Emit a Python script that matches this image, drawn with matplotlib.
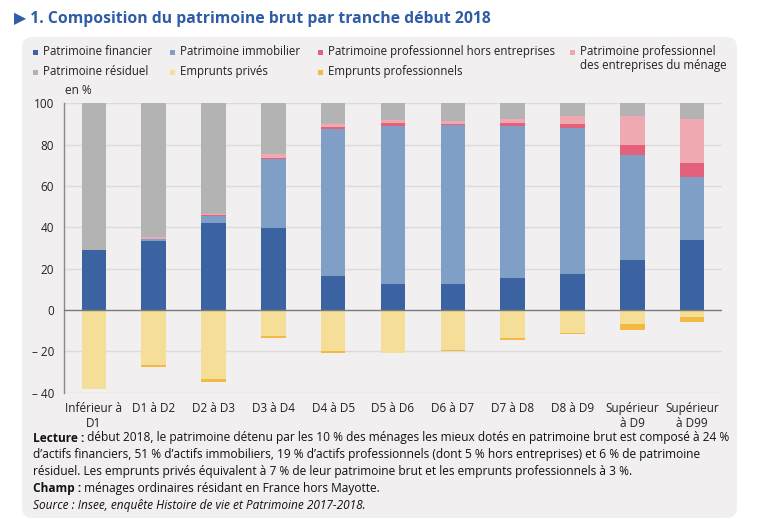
import numpy as np
import matplotlib
matplotlib.use('Agg')
import matplotlib.pyplot as plt
from matplotlib.patches import FancyBboxPatch, Rectangle

plt.rcParams['font.family'] = ['Open Sans', 'DejaVu Sans']

categories = ['Inférieur à\nD1', 'D1 à D2', 'D2 à D3', 'D3 à D4', 'D4 à D5', 'D5 à D6',
              'D6 à D7', 'D7 à D8', 'D8 à D9', 'Supérieur\nà D9', 'Supérieur\nà D99']

financier = [29.0, 33.5, 42.1, 39.5, 16.5, 12.4, 12.7, 15.6, 17.4, 24.0, 33.9]
immobilier = [0.0, 0.9, 3.2, 33.4, 71.1, 76.8, 76.8, 73.4, 70.7, 51.0, 30.3]
pro_hors = [0.0, 0.0, 0.5, 0.8, 0.8, 1.4, 0.7, 1.5, 2.1, 5.0, 7.1]
pro_ent = [0.0, 0.9, 0.5, 1.8, 1.6, 1.3, 1.3, 1.9, 3.5, 14.0, 21.0]
residuel = [71.0, 64.7, 53.7, 24.5, 10.0, 8.1, 8.5, 7.6, 6.3, 6.0, 7.7]
emprunts_prives = [38.1, 26.7, 33.2, 12.6, 19.9, 20.6, 19.4, 13.4, 11.0, 7.0, 3.4]
emprunts_pro = [0.0, 1.0, 1.5, 0.7, 0.7, 0.4, 0.5, 0.9, 0.8, 2.6, 2.6]

yticks = [-40, -20, 0, 20, 40, 60, 80, 100]
ytick_labels = ['\u2013 40', '\u2013 20', '0', '20', '40', '60', '80', '100']

c_fin = '#3b63a1'
c_immo = '#809fc6'
c_hors = '#e3617a'
c_ent = '#f0a9b1'
c_res = '#b3b3b3'
c_priv = '#f5de97'
c_pro = '#f4b942'
panel = '#f1efef'
blue_title = '#2f5ca6'

fig = plt.figure(figsize=(7.6, 5.29), dpi=100)
W, H = 760, 529

# panel background
bg = FancyBboxPatch((22 / W, 1 - 518 / H), (737 - 22) / W, (518 - 37) / H,
                    boxstyle='round,pad=0,rounding_size=0.014', mutation_aspect=W / H,
                    transform=fig.transFigure, facecolor=panel, edgecolor='none', zorder=-10)
fig.patches.append(bg)

fig.text(14 / W, 1 - 19 / H, '\u25B6 1. Composition du patrimoine brut par tranche début 2018',
         fontsize=11.3, fontweight='bold', color=blue_title, va='center', ha='left')

ax = fig.add_axes([64 / W, 1 - 392.7 / H, (722 - 64) / W, (392.7 - 103.3) / H])
ax.patch.set_alpha(0)

x = np.arange(len(categories))
w = 0.41
pos_series = [(financier, c_fin), (immobilier, c_immo), (pro_hors, c_hors),
              (pro_ent, c_ent), (residuel, c_res)]
bottom = np.zeros(len(x))
for vals, col in pos_series:
    v = np.array(vals)
    ax.bar(x, v, w, bottom=bottom, color=col, linewidth=0, zorder=3)
    bottom += v
neg_bottom = np.zeros(len(x))
for vals, col in [(emprunts_prives, c_priv), (emprunts_pro, c_pro)]:
    v = -np.array(vals)
    ax.bar(x, v, w, bottom=neg_bottom, color=col, linewidth=0, zorder=3)
    neg_bottom += v

ax.set_xlim(-0.5, len(x) - 0.5)
ax.set_ylim(-40, 100)
ax.set_yticks(yticks)
ax.set_yticklabels(ytick_labels, fontsize=8.5, color='#222222')
ax.set_xticks(x)
ax.set_xticklabels(categories, fontsize=8.5, color='#222222', linespacing=1.2)
ax.tick_params(axis='both', length=0)
ax.tick_params(axis='y', pad=7)
ax.tick_params(axis='x', pad=6.5)
for yv in yticks:
    if yv != 0:
        ax.axhline(yv, color='#dcdada', linewidth=1, zorder=1)
ax.axhline(0, color='#7a7a7a', linewidth=1, zorder=4)
for s in ['top', 'right', 'bottom']:
    ax.spines[s].set_visible(False)
ax.spines['left'].set_color('#8a8a8a')
ax.spines['left'].set_linewidth(1)

fig.text(65 / W, 1 - 91 / H, 'en %', fontsize=8.5, color='#222222', va='center')

# legend
legend_items = [
    (33, 52, c_fin, 'Patrimoine financier'),
    (170, 52, c_immo, 'Patrimoine immobilier'),
    (318, 52, c_hors, 'Patrimoine professionnel hors entreprises'),
    (570, 52, c_ent, 'Patrimoine professionnel\ndes entreprises du ménage'),
    (33, 72, c_res, 'Patrimoine résiduel'),
    (170, 72, c_priv, 'Emprunts privés'),
    (318, 72, c_pro, 'Emprunts professionnels'),
]
for lx, ly, col, lab in legend_items:
    fig.patches.append(Rectangle((lx / W, 1 - (ly + 2.5) / H), 5 / W, 5 / H,
                                 transform=fig.transFigure, facecolor=col, edgecolor='none'))
    fig.text((lx + 10) / W, 1 - (ly - 7) / H, lab, fontsize=8.3, color='#222222',
             va='top', ha='left', linespacing=1.15)

# notes
notes = [
    ('Lecture :', ' début 2018, le patrimoine détenu par les 10 % des ménages les mieux dotés en patrimoine brut est composé à 24 %'),
    ('', 'd\u2019actifs financiers, 51 % d\u2019actifs immobiliers, 19 % d\u2019actifs professionnels (dont 5 % hors entreprises) et 6 % de patrimoine'),
    ('', 'résiduel. Les emprunts privés équivalent à 7 % de leur patrimoine brut et les emprunts professionnels à 3 %.'),
    ('Champ :', ' ménages ordinaires résidant en France hors Mayotte.'),
]
renderer = fig.canvas.get_renderer()
for i, (bold, rest) in enumerate(notes):
    yy = 1 - (438 + i * 16.8) / H
    xx = 33 / W
    if bold:
        t = fig.text(xx, yy, bold, fontsize=8.6, fontweight='bold', color='#111111', va='center')
        bb = t.get_window_extent(renderer)
        xx = bb.x1 / W
    fig.text(xx, yy, rest, fontsize=8.6, color='#111111', va='center')
fig.text(33 / W, 1 - (438 + 4 * 16.8) / H, 'Source : Insee, enquête Histoire de vie et Patrimoine 2017-2018.',
         fontsize=8.6, style='italic', color='#111111', va='center')

fig.savefig('out.png', dpi=100, facecolor='white')
